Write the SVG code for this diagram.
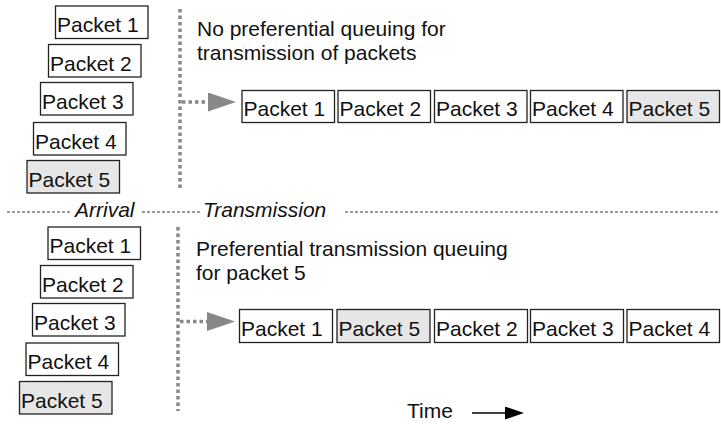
<svg xmlns="http://www.w3.org/2000/svg" width="721" height="424" viewBox="0 0 721 424">
<style>
.box{fill:#fff;stroke:#222;stroke-width:1.3}
.hi{fill:#e6e6e6}
.lbl{font-family:"Liberation Sans",Arial,sans-serif;font-size:21px;fill:#111}
.it{font-style:italic}
.dot{stroke:#888;stroke-width:3.5;stroke-dasharray:3.5 3;fill:none}
.sep{stroke:#333;stroke-width:1;stroke-dasharray:3 2;fill:none}
</style>
<defs>
<marker id="ga" markerUnits="userSpaceOnUse" markerWidth="28" markerHeight="19" refX="0" refY="9.5" orient="auto"><path d="M0,0 L28,9.5 L0,19 Z" fill="#888"/></marker>
<marker id="ba" markerUnits="userSpaceOnUse" markerWidth="19" markerHeight="13" refX="0" refY="6.5" orient="auto"><path d="M0,0 L19,6.5 L0,13 Z" fill="#000"/></marker>
</defs>
<rect width="721" height="424" fill="#fff"/>
<g id="separator">
<line class="sep" x1="7" y1="212" x2="70" y2="212"/>
<line class="sep" x1="142" y1="212" x2="200" y2="212"/>
<line class="sep" x1="345" y1="212" x2="720" y2="212"/>
<text class="lbl it" x="75" y="217">Arrival</text>
<text class="lbl it" x="203" y="217">Transmission</text>
</g>
<g id="connectors">
<line class="dot" x1="180" y1="9" x2="180" y2="190"/>
<line class="dot" x1="178" y1="227" x2="178" y2="411"/>
<line class="dot" x1="182" y1="102" x2="208" y2="102" marker-end="url(#ga)"/>
<line class="dot" x1="180" y1="321.5" x2="207" y2="321.5" marker-end="url(#ga)"/>
<line x1="472" y1="413" x2="505" y2="413" stroke="#000" stroke-width="1.5" marker-end="url(#ba)"/>
</g>
<g id="header-top">
<text class="lbl" x="197" y="36">No preferential queuing for</text>
<text class="lbl" x="197" y="60">transmission of packets</text>
</g>
<g id="header-bottom">
<text class="lbl" x="196" y="256">Preferential transmission queuing</text>
<text class="lbl" x="196" y="280">for packet 5</text>
</g>
<g id="time"><text class="lbl" x="407" y="418">Time</text></g>
<g id="arr-top-1"><rect class="box" x="55.5" y="6" width="92.5" height="32.5"/><text class="lbl" x="57" y="32">Packet 1</text></g>
<g id="arr-top-2"><rect class="box" x="48.5" y="44.5" width="92.5" height="32.5"/><text class="lbl" x="50" y="70.5">Packet 2</text></g>
<g id="arr-top-3"><rect class="box" x="40.5" y="82.5" width="92.5" height="32.5"/><text class="lbl" x="42" y="108.5">Packet 3</text></g>
<g id="arr-top-4"><rect class="box" x="33.5" y="122.5" width="92.5" height="32.5"/><text class="lbl" x="35" y="148.5">Packet 4</text></g>
<g id="arr-top-5"><rect class="box hi" x="27" y="160.5" width="92.5" height="32.5"/><text class="lbl" x="28.5" y="186.5">Packet 5</text></g>
<g id="tx-top-1"><rect class="box" x="242" y="90.5" width="92.5" height="32"/><text class="lbl" x="243.5" y="116">Packet 1</text></g>
<g id="tx-top-2"><rect class="box" x="338" y="90.5" width="92.5" height="32"/><text class="lbl" x="339.5" y="116">Packet 2</text></g>
<g id="tx-top-3"><rect class="box" x="434.5" y="90.5" width="92.5" height="32"/><text class="lbl" x="436" y="116">Packet 3</text></g>
<g id="tx-top-4"><rect class="box" x="530.5" y="90.5" width="92.5" height="32"/><text class="lbl" x="532" y="116">Packet 4</text></g>
<g id="tx-top-5"><rect class="box hi" x="627" y="90.5" width="92.5" height="32"/><text class="lbl" x="628.5" y="116">Packet 5</text></g>
<g id="arr-bot-1"><rect class="box" x="48" y="227" width="92.5" height="32.5"/><text class="lbl" x="49.5" y="253">Packet 1</text></g>
<g id="arr-bot-2"><rect class="box" x="40.5" y="265.5" width="92.5" height="32.5"/><text class="lbl" x="42" y="291.5">Packet 2</text></g>
<g id="arr-bot-3"><rect class="box" x="32.5" y="303.5" width="92.5" height="32.5"/><text class="lbl" x="34" y="329.5">Packet 3</text></g>
<g id="arr-bot-4"><rect class="box" x="26" y="343" width="92.5" height="32.5"/><text class="lbl" x="27.5" y="369">Packet 4</text></g>
<g id="arr-bot-5"><rect class="box hi" x="19.5" y="381.5" width="92.5" height="32.5"/><text class="lbl" x="21" y="407.5">Packet 5</text></g>
<g id="tx-bot-1"><rect class="box" x="239.5" y="309.5" width="93" height="33"/><text class="lbl" x="241" y="335.5">Packet 1</text></g>
<g id="tx-bot-2"><rect class="box hi" x="337" y="309.5" width="93" height="33"/><text class="lbl" x="338.5" y="335.5">Packet 5</text></g>
<g id="tx-bot-3"><rect class="box" x="434.5" y="309.5" width="93" height="33"/><text class="lbl" x="436" y="335.5">Packet 2</text></g>
<g id="tx-bot-4"><rect class="box" x="530.5" y="309.5" width="93" height="33"/><text class="lbl" x="532" y="335.5">Packet 3</text></g>
<g id="tx-bot-5"><rect class="box" x="627" y="309.5" width="92.5" height="33"/><text class="lbl" x="628.5" y="335.5">Packet 4</text></g>
</svg>
